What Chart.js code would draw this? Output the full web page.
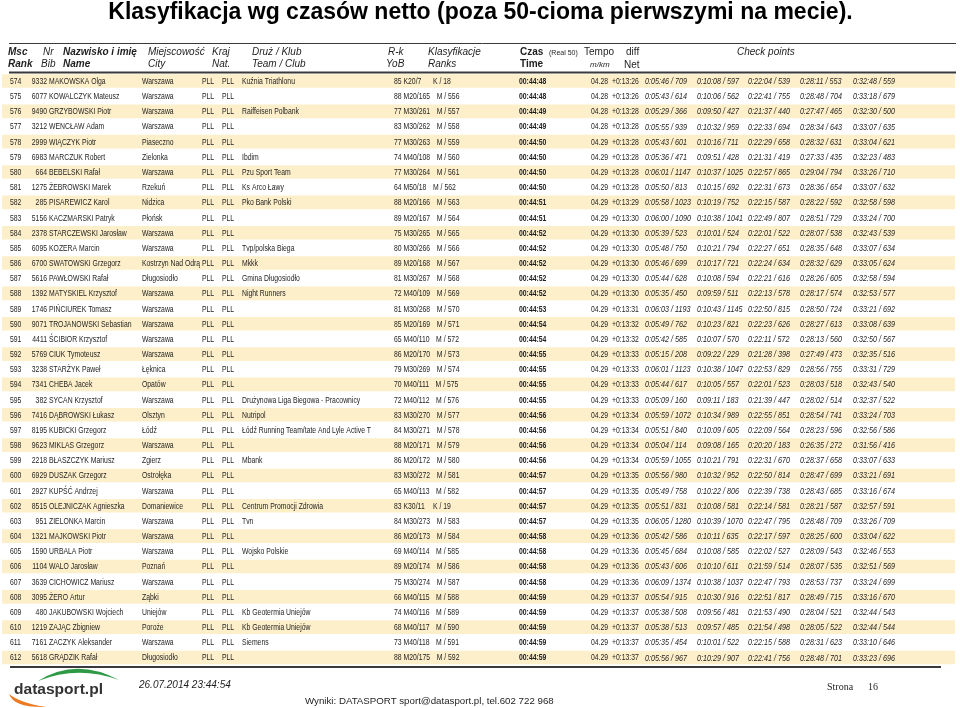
<!DOCTYPE html>
<html><head><meta charset="utf-8">
<script src="https://cdn.jsdelivr.net/npm/chart.js@4.4.0/dist/chart.umd.min.js"></script>
<style>html,body{margin:0;padding:0;background:#fff;}#wrap{position:relative;width:960px;height:708px;}</style>
</head><body><div id="wrap"><canvas id="c"></canvas></div>
<script>
const title = 'Klasyfikacja wg czasów netto (poza 50-cioma pierwszymi na mecie).';
const ranks = ['574','575','576','577','578','579','580','581','582','583','584','585','586','587','588','589','590','591','592','593','594','595','596','597','598','599','600','601','602','603','604','605','606','607','608','609','610','611','612'];
const bibs = ['9332','6077','9490','3212','2999','6983','664','1275','285','5156','2378','6095','6700','5616','1392','1746','9071','4411','5769','3238','7341','382','7416','8195','9623','2218','6929','2927','8515','951','1321','1590','1104','3639','3095','480','1219','7161','5618'];
const names = ['MAKOWSKA Olga','KOWALCZYK Mateusz','GRZYBOWSKI Piotr','WENCŁAW Adam','WIĄCZYK Piotr','MARCZUK Robert','BEBELSKI Rafał','ŻEBROWSKI Marek','PISAREWICZ Karol','KACZMARSKI Patryk','STARCZEWSKI Jarosław','KOZERA Marcin','SWATOWSKI Grzegorz','PAWŁOWSKI Rafał','MATYSKIEL Krzysztof','PIŃCIUREK Tomasz','TROJANOWSKI Sebastian','ŚCIBIOR Krzysztof','CIUK Tymoteusz','STARŻYK Paweł','CHEBA Jacek','SYCAN Krzysztof','DĄBROWSKI Łukasz','KUBICKI Grzegorz','MIKLAS Grzegorz','BŁASZCZYK Mariusz','DUSZAK Grzegorz','KUPŚĆ Andrzej','OLEJNICZAK Agnieszka','ZIELONKA Marcin','MAJKOWSKI Piotr','URBALA Piotr','WALO Jarosław','CICHOWICZ Mariusz','ŻERO Artur','JAKUBOWSKI Wojciech','ZAJĄC Zbigniew','ZACZYK Aleksander','GRĄDZIK Rafał'];
const cities = ['Warszawa','Warszawa','Warszawa','Warszawa','Piaseczno','Zielonka','Warszawa','Rzekuń','Nidzica','Płońsk','Warszawa','Warszawa','Kostrzyn Nad Odrą','Długosiodło','Warszawa','Warszawa','Warszawa','Warszawa','Warszawa','Łęknica','Opatów','Warszawa','Olsztyn','Łódź','Warszawa','Zgierz','Ostrołęka','Warszawa','Domaniewice','Warszawa','Warszawa','Warszawa','Poznań','Warszawa','Ząbki','Uniejów','Poroże','Warszawa','Długosiodło'];
const country = 'PLL';
const nationality = 'PLL';
const teams = ['Kuźnia Triathlonu','','Raiffeisen Polbank','','','Ibdim','Pzu Sport Team','Ks Arco Ławy','Pko Bank Polski','','','Tvp/polska Biega','Mkkk','Gmina Długosiodło','Night Runners','','','','','','','Drużynowa Liga Biegowa - Pracownicy','Nutripol','Łódź Running Team/tate And Lyle Active T','','Mbank','','','Centrum Promocji Zdrowia','Tvn','','Wojsko Polskie','','','','Kb Geotermia Uniejów','Kb Geotermia Uniejów','Siemens',''];
const yobs = ['85','88','77','83','77','74','77','64','88','89','75','80','89','81','72','81','85','65','86','79','70','72','83','84','88','86','83','65','83','84','86','69','89','75','66','74','68','73','88'];
const cats = ['K20/7','M20/165','M30/261','M30/262','M30/263','M40/108','M30/264','M50/18','M20/166','M20/167','M30/265','M30/266','M20/168','M30/267','M40/109','M30/268','M20/169','M40/110','M20/170','M30/269','M40/111','M40/112','M30/270','M30/271','M20/171','M20/172','M30/272','M40/113','K30/11','M30/273','M20/173','M40/114','M20/174','M30/274','M40/115','M40/116','M40/117','M40/118','M20/175'];
const genderRanks = ['K / 18','M / 556','M / 557','M / 558','M / 559','M / 560','M / 561','M / 562','M / 563','M / 564','M / 565','M / 566','M / 567','M / 568','M / 569','M / 570','M / 571','M / 572','M / 573','M / 574','M / 575','M / 576','M / 577','M / 578','M / 579','M / 580','M / 581','M / 582','K / 19','M / 583','M / 584','M / 585','M / 586','M / 587','M / 588','M / 589','M / 590','M / 591','M / 592'];
const times = ['00:44:48','00:44:48','00:44:49','00:44:49','00:44:50','00:44:50','00:44:50','00:44:50','00:44:51','00:44:51','00:44:52','00:44:52','00:44:52','00:44:52','00:44:52','00:44:53','00:44:54','00:44:54','00:44:55','00:44:55','00:44:55','00:44:55','00:44:56','00:44:56','00:44:56','00:44:56','00:44:57','00:44:57','00:44:57','00:44:57','00:44:58','00:44:58','00:44:58','00:44:58','00:44:59','00:44:59','00:44:59','00:44:59','00:44:59'];
const tempos = ['04.28','04.28','04.28','04.28','04.29','04.29','04.29','04.29','04.29','04.29','04.29','04.29','04.29','04.29','04.29','04.29','04.29','04.29','04.29','04.29','04.29','04.29','04.29','04.29','04.29','04.29','04.29','04.29','04.29','04.29','04.29','04.29','04.29','04.29','04.29','04.29','04.29','04.29','04.29'];
const diffs = ['+0:13:26','+0:13:26','+0:13:28','+0:13:28','+0:13:28','+0:13:28','+0:13:28','+0:13:28','+0:13:29','+0:13:30','+0:13:30','+0:13:30','+0:13:30','+0:13:30','+0:13:30','+0:13:31','+0:13:32','+0:13:32','+0:13:33','+0:13:33','+0:13:33','+0:13:33','+0:13:34','+0:13:34','+0:13:34','+0:13:34','+0:13:35','+0:13:35','+0:13:35','+0:13:35','+0:13:36','+0:13:36','+0:13:36','+0:13:36','+0:13:37','+0:13:37','+0:13:37','+0:13:37','+0:13:37'];
const cp1 = ['0:05:46 / 709','0:05:43 / 614','0:05:29 / 366','0:05:55 / 939','0:05:43 / 601','0:05:36 / 471','0:06:01 / 1147','0:05:50 / 813','0:05:58 / 1023','0:06:00 / 1090','0:05:39 / 523','0:05:48 / 750','0:05:46 / 699','0:05:44 / 628','0:05:35 / 450','0:06:03 / 1193','0:05:49 / 762','0:05:42 / 585','0:05:15 / 208','0:06:01 / 1123','0:05:44 / 617','0:05:09 / 160','0:05:59 / 1072','0:05:51 / 840','0:05:04 / 114','0:05:59 / 1055','0:05:56 / 980','0:05:49 / 758','0:05:51 / 831','0:06:05 / 1280','0:05:42 / 586','0:05:45 / 684','0:05:43 / 606','0:06:09 / 1374','0:05:54 / 915','0:05:38 / 508','0:05:38 / 513','0:05:35 / 454','0:05:56 / 967'];
const cp2 = ['0:10:08 / 597','0:10:06 / 562','0:09:50 / 427','0:10:32 / 959','0:10:16 / 711','0:09:51 / 428','0:10:37 / 1025','0:10:15 / 692','0:10:19 / 752','0:10:38 / 1041','0:10:01 / 524','0:10:21 / 794','0:10:17 / 721','0:10:08 / 594','0:09:59 / 511','0:10:43 / 1145','0:10:23 / 821','0:10:07 / 570','0:09:22 / 229','0:10:38 / 1047','0:10:05 / 557','0:09:11 / 183','0:10:34 / 989','0:10:09 / 605','0:09:08 / 165','0:10:21 / 791','0:10:32 / 952','0:10:22 / 806','0:10:08 / 581','0:10:39 / 1070','0:10:11 / 635','0:10:08 / 585','0:10:10 / 611','0:10:38 / 1037','0:10:30 / 916','0:09:56 / 481','0:09:57 / 485','0:10:01 / 522','0:10:29 / 907'];
const cp3 = ['0:22:04 / 539','0:22:41 / 755','0:21:37 / 440','0:22:33 / 694','0:22:29 / 658','0:21:31 / 419','0:22:57 / 865','0:22:31 / 673','0:22:15 / 587','0:22:49 / 807','0:22:01 / 522','0:22:27 / 651','0:22:24 / 634','0:22:21 / 616','0:22:13 / 578','0:22:50 / 815','0:22:23 / 626','0:22:11 / 572','0:21:28 / 398','0:22:53 / 829','0:22:01 / 523','0:21:39 / 447','0:22:55 / 851','0:22:09 / 564','0:20:20 / 183','0:22:31 / 670','0:22:50 / 814','0:22:39 / 738','0:22:14 / 581','0:22:47 / 795','0:22:17 / 597','0:22:02 / 527','0:21:59 / 514','0:22:47 / 793','0:22:51 / 817','0:21:53 / 490','0:21:54 / 498','0:22:15 / 588','0:22:41 / 756'];
const cp4 = ['0:28:11 / 553','0:28:48 / 704','0:27:47 / 465','0:28:34 / 643','0:28:32 / 631','0:27:33 / 435','0:29:04 / 794','0:28:36 / 654','0:28:22 / 592','0:28:51 / 729','0:28:07 / 538','0:28:35 / 648','0:28:32 / 629','0:28:26 / 605','0:28:17 / 574','0:28:50 / 724','0:28:27 / 613','0:28:13 / 560','0:27:49 / 473','0:28:56 / 755','0:28:03 / 518','0:28:02 / 514','0:28:54 / 741','0:28:23 / 596','0:26:35 / 272','0:28:37 / 658','0:28:47 / 699','0:28:43 / 685','0:28:21 / 587','0:28:48 / 709','0:28:25 / 600','0:28:09 / 543','0:28:07 / 535','0:28:53 / 737','0:28:49 / 715','0:28:04 / 521','0:28:05 / 522','0:28:31 / 623','0:28:48 / 701'];
const cp5 = ['0:32:48 / 559','0:33:18 / 679','0:32:30 / 500','0:33:07 / 635','0:33:04 / 621','0:32:23 / 483','0:33:26 / 710','0:33:07 / 632','0:32:58 / 598','0:33:24 / 700','0:32:43 / 539','0:33:07 / 634','0:33:05 / 624','0:32:58 / 594','0:32:53 / 577','0:33:21 / 692','0:33:08 / 639','0:32:50 / 567','0:32:35 / 516','0:33:31 / 729','0:32:43 / 540','0:32:37 / 522','0:33:24 / 703','0:32:56 / 586','0:31:56 / 416','0:33:07 / 633','0:33:21 / 691','0:33:16 / 674','0:32:57 / 591','0:33:26 / 709','0:33:04 / 622','0:32:46 / 553','0:32:51 / 569','0:33:24 / 699','0:33:16 / 670','0:32:44 / 543','0:32:44 / 544','0:33:10 / 646','0:33:23 / 696'];
const headerRow1 = [['Msc',8,'bi'],['Nr',43,'i'],['Nazwisko i imię',63,'bi'],['Miejscowość',148,'i'],['Kraj',212,'i'],['Druż / Klub',252,'i'],['R-k',388,'i'],['Klasyfikacje',428,'i'],['Czas',520,'b'],['Tempo',584,''],['diff',626,''],['Check points',737,'i']];
const headerRow2 = [['Rank',8,'bi'],['Bib',41,'i'],['Name',63,'bi'],['City',148,'i'],['Nat.',212,'i'],['Team / Club',252,'i'],['YoB',386,'i'],['Ranks',428,'i'],['Time',520,'b']];
const footerDate = '26.07.2014 23:44:54';
const footerInfo = 'Wyniki: DATASPORT sport@datasport.pl, tel.602 722 968';
const pageLabel = 'Strona';
const pageNo = '16';

const FF = '"Liberation Sans", Arial, Helvetica, sans-serif';
function txt(ctx, s, x, y, o) {
  o = o || {};
  const size = o.size || 9, sx = o.sx || 1;
  ctx.save();
  ctx.font = (o.italic ? 'italic ' : '') + (o.bold ? 'bold ' : '') + size + 'px ' + (o.family || FF);
  ctx.fillStyle = o.color || '#1e1e1e';
  ctx.textBaseline = 'middle';
  ctx.textAlign = 'left';
  const w = ctx.measureText(s).width * sx;
  let xx = x;
  if (o.align === 'right') xx = x - w; else if (o.align === 'center') xx = x - w / 2;
  ctx.translate(xx, y); ctx.scale(sx, 1); ctx.fillText(s, 0, 0);
  ctx.restore();
  return xx + w;
}
function fitSize(ctx, s, font, base, target) {
  ctx.save();
  ctx.font = font.replace('SIZE', base + 'px');
  const w = ctx.measureText(s).width;
  ctx.restore();
  return base * target / w;
}

const SX = 0.76;
const bodyCols = [
  {data: ranks, x: 10},
  {data: bibs, x: 47, align: 'right'},
  {data: names, x: 49},
  {data: cities, x: 142},
  {data: null, value: country, x: 202},
  {data: null, value: nationality, x: 222},
  {data: teams, x: 242},
  {data: times, x: 519, bold: true},
  {data: tempos, x: 591},
  {data: diffs, x: 612},
  {data: cp1, x: 645, italic: true, sx: 0.8},
  {data: cp2, x: 697, italic: true, sx: 0.8},
  {data: cp3, x: 748, italic: true, sx: 0.8},
  {data: cp4, x: 800, italic: true, sx: 0.8},
  {data: cp5, x: 853, italic: true, sx: 0.8}
];

const tablePlugin = {
  id: 'tablePlugin',
  beforeDraw(chart) {
    const ctx = chart.ctx;
    ctx.save(); ctx.fillStyle = '#fff'; ctx.fillRect(0, 0, chart.width, chart.height); ctx.restore();
  },
  afterDatasetsDraw(chart) {
    const ctx = chart.ctx, ys = chart.scales.y;
    // title
    const ts = fitSize(ctx, title, 'bold SIZE ' + FF, 18, 745);
    txt(ctx, title, 480.5, 13, {size: ts, bold: true, align: 'center', color: '#000'});
    // rules
    ctx.save();
    ctx.strokeStyle = '#3a3a3a';
    ctx.lineWidth = 1; ctx.beginPath(); ctx.moveTo(9, 43.5); ctx.lineTo(956, 43.5); ctx.stroke();
    ctx.lineWidth = 2; ctx.beginPath(); ctx.moveTo(9, 72.5); ctx.lineTo(956, 72.5); ctx.stroke();
    ctx.beginPath(); ctx.moveTo(10, 667); ctx.lineTo(941, 667); ctx.stroke();
    ctx.restore();
    headerRow1.forEach(h => txt(ctx, h[0], h[1], 52, {size: 10, bold: h[2].includes('b'), italic: h[2].includes('i')}));
    headerRow2.forEach(h => txt(ctx, h[0], h[1], 64, {size: 10, bold: h[2].includes('b'), italic: h[2].includes('i')}));
    txt(ctx, '(Real 50)', 549, 53, {size: 7});
    txt(ctx, 'm/km', 590, 65, {size: 8, italic: true});
    txt(ctx, 'Net', 624, 65, {size: 10});
    // body cells placed on the category scale
    for (let i = 0; i < ranks.length; i++) {
      const cy = ys.getPixelForValue(i) + 0.5;
      bodyCols.forEach(c => {
        const v = c.data ? c.data[i] : c.value;
        if (!v) return;
        txt(ctx, v, c.x, cy, {size: 9, sx: c.sx || SX, bold: c.bold, italic: c.italic, align: c.align});
      });
      const end = txt(ctx, yobs[i] + ' ' + cats[i], 394, cy, {size: 9, sx: SX});
      txt(ctx, genderRanks[i], Math.max(433, end + 6.5), cy, {size: 9, sx: SX});
    }
    // footer logo
    ctx.save();
    ctx.fillStyle = '#2f9a45';
    ctx.beginPath(); ctx.moveTo(38, 681); ctx.quadraticCurveTo(76, 657, 119, 680);
    ctx.quadraticCurveTo(78, 665, 38, 681); ctx.fill();
    ctx.fillStyle = '#ec7a23';
    ctx.beginPath(); ctx.moveTo(9, 694); ctx.quadraticCurveTo(14, 708, 46, 707);
    ctx.quadraticCurveTo(20, 703, 9, 694); ctx.fill();
    ctx.restore();
    const ls = fitSize(ctx, 'datasport.pl', 'bold SIZE ' + FF, 15, 89);
    txt(ctx, 'datasport.pl', 14, 690, {size: ls, bold: true, color: '#333'});
    txt(ctx, footerDate, 139, 685, {size: 10, italic: true});
    const fs = fitSize(ctx, footerInfo, 'SIZE ' + FF, 10, 249);
    txt(ctx, footerInfo, 305, 701, {size: fs});
    txt(ctx, pageLabel, 827, 687, {size: 10, family: '"Liberation Serif", "Times New Roman", serif'});
    txt(ctx, pageNo, 868, 687, {size: 10, family: '"Liberation Serif", "Times New Roman", serif'});
  }
};

const stripes = ranks.map((r, i) => (i % 2 === 0 ? [0, 1] : null));

new Chart(document.getElementById('c'), {
  type: 'bar',
  data: {
    labels: ranks,
    datasets: [{
      data: stripes,
      backgroundColor: '#fdefc9',
      borderWidth: 0,
      barPercentage: 0.9,
      categoryPercentage: 1.0
    }]
  },
  options: {
    indexAxis: 'y',
    responsive: true,
    maintainAspectRatio: false,
    animation: false,
    events: [],
    layout: {padding: {left: 2, right: 5, top: 73.4, bottom: 42.9}},
    scales: {
      x: {type: 'linear', min: 0, max: 1, display: false},
      y: {type: 'category', display: false, offset: true}
    },
    plugins: {legend: {display: false}, tooltip: {enabled: false}}
  },
  plugins: [tablePlugin]
});
</script></body></html>
